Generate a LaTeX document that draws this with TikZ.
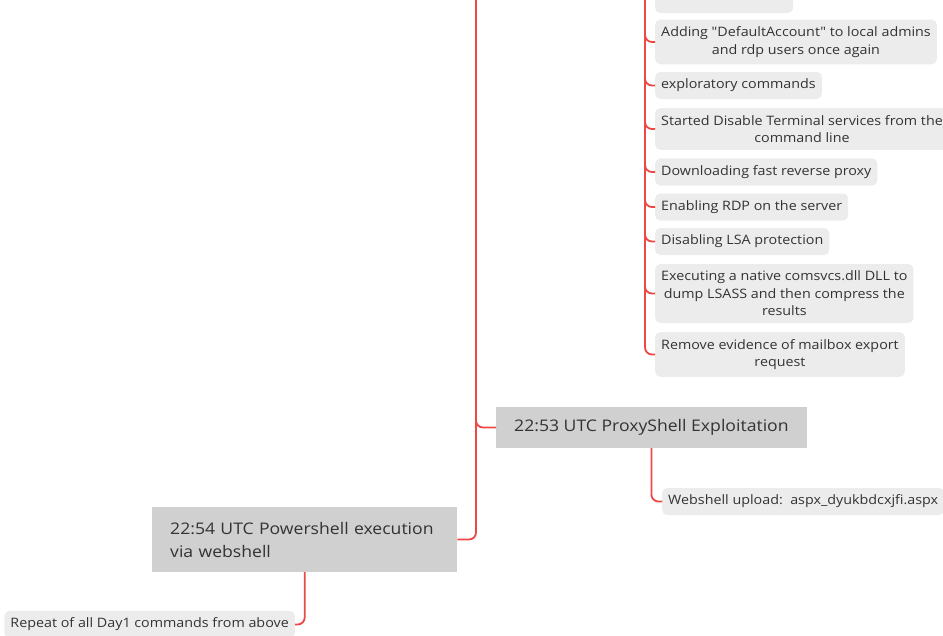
\documentclass[tikz,border=0pt]{standalone}
\usepackage{fontspec}
\setmainfont{Open Sans}[FakeStretch=1.1, Ligatures=TeXOff]
\definecolor{lnred}{RGB}{238,72,68}
\definecolor{itemfill}{RGB}{236,236,236}
\definecolor{topicfill}{RGB}{208,208,208}
\definecolor{txt}{RGB}{51,51,51}
\begin{document}
\begin{tikzpicture}[x=1pt,y=-1pt,
  item/.style={fill=itemfill, rounded corners=5pt, inner xsep=6pt, inner ysep=7pt, anchor=west, text=txt, font=\fontsize{13}{17.5}\selectfont, align=center},
  topic/.style={fill=topicfill, inner xsep=18pt, anchor=west, text=txt, font=\fontsize{16}{23}\selectfont},
  link/.style={draw=lnred, line width=1.8pt, rounded corners=7pt}]
\useasboundingbox (0,0) rectangle (943,635);
\clip (0,0) rectangle (943,635);
% right column of items
\node[item, minimum width=138pt, minimum height=28pt] (i0) at (655,-1) {};
\node[item] (i1) at (655,42) {Adding "DefaultAccount" to local admins\\and rdp users once again};
\node[item] (i2) at (655,85.5) {exploratory commands};
\node[item] (i3) at (655,129) {Started Disable Terminal services from the\\command line};
\node[item] (i4) at (655,172) {Downloading fast reverse proxy};
\node[item] (i5) at (655,207) {Enabling RDP on the server};
\node[item] (i6) at (655,241.5) {Disabling LSA protection};
\node[item] (i7) at (655,293.5) {Executing a native comsvcs.dll DLL to\\dump LSASS and then compress the\\results};
\node[item] (i8) at (655,354.5) {Remove evidence of mailbox export\\request};
\coordinate (ttop) at (645,-10);
\foreach \n in {i0,i1,i2,i3,i4,i5,i6,i7,i8} {\draw[link] (ttop) |- (\n.west);}
% topics
\node[topic, minimum height=41pt] (proxy) at (496,427.5) {22:53 UTC ProxyShell Exploitation};
\node[topic, minimum height=65pt, text width=269pt, align=left] (power) at (152,539.5) {22:54 UTC Powershell execution\\via webshell};
\coordinate (mtop) at (476,-10);
\draw[link] (mtop) |- (proxy.west);
\draw[link] (mtop) |- (power.east);
% children
\node[item] (web) at (662,501.5) {Webshell upload:\ \ aspx\_dyukbdcxjfi.aspx};
\draw[link] (proxy.south) |- (web.west);
\node[item, anchor=east] (rep) at (295,624.5) {Repeat of all Day1 commands from above};
\draw[link] (power.south) |- (rep.east);
\end{tikzpicture}
\end{document}
